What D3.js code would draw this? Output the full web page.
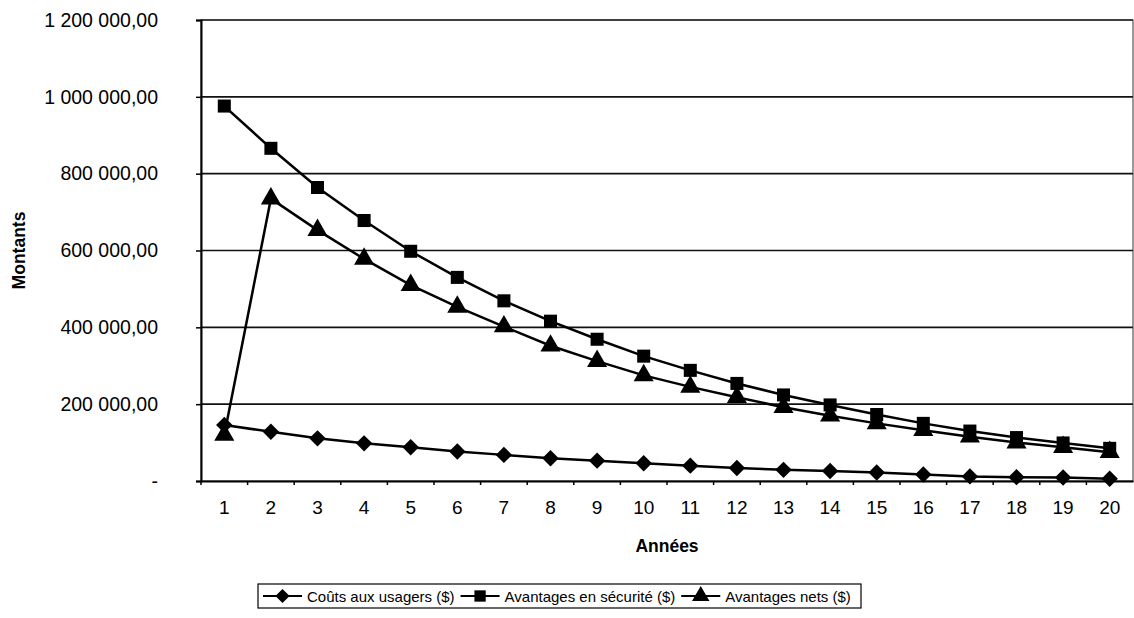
<!DOCTYPE html>
<html>
<head>
<meta charset="utf-8">
<script src="https://cdn.jsdelivr.net/npm/d3@7"></script>
<style>
  body { margin: 0; background: #fff; }
  svg { font-family: Arial, "Liberation Sans", sans-serif; }
</style>
</head>
<body>
<div class="canvas"></div>
<script>
const years = d3.range(1, 21);
const couts = [146000, 128000, 111000, 98000, 88000, 77000, 68000, 59000, 53000, 46000,
  40000, 34000, 29000, 26000, 22000, 17000, 12000, 10000, 9000, 6000];
const securite = [976000, 866000, 764000, 678000, 598000, 530000, 469000, 416000, 369000, 325000,
  288000, 254000, 224000, 198000, 173000, 150000, 130000, 113000, 99000, 85000];
const nets = [120000, 735000, 653000, 578000, 510000, 453000, 402000, 352000, 312000, 275000,
  245000, 218000, 192000, 170000, 150000, 132000, 115000, 100000, 88000, 75000];
const yTicks = [0, 200000, 400000, 600000, 800000, 1000000, 1200000];
const seriesNames = ["Coûts aux usagers ($)", "Avantages en sécurité ($)", "Avantages nets ($)"];

const width = 1134, height = 618;
const plotLeft = 201, plotRight = 1133, plotTop = 20, plotBottom = 481;
const fontFamily = "Arial, 'Liberation Sans', sans-serif";

const svg = d3.select(".canvas").append("svg")
  .attr("width", width).attr("height", height);

const x = d3.scaleBand().domain(years).range([plotLeft, plotRight]);
const y = d3.scaleLinear().domain([0, 1200000]).range([plotBottom, plotTop]);

// grid lines
svg.append("g")
  .selectAll("line")
  .data(yTicks.slice(1))
  .enter()
  .append("line")
  .attr("x1", plotLeft).attr("x2", plotRight)
  .attr("y1", d => y(d)).attr("y2", d => y(d))
  .attr("stroke", "#111").attr("stroke-width", 1.6);

// plot frame
svg.append("rect")
  .attr("x", plotLeft).attr("y", plotTop)
  .attr("width", plotRight - plotLeft).attr("height", plotBottom - plotTop)
  .attr("fill", "none").attr("stroke", "#333").attr("stroke-width", 1);

const fmt = d => d === 0 ? "-" : d3.format(",.2f")(d).replace(/,/g, " ").replace(".", ",");

const yAxis = svg.append("g")
  .attr("transform", `translate(${plotLeft},0)`)
  .call(d3.axisLeft(y).tickValues(yTicks).tickFormat(fmt).tickSize(5).tickPadding(38));
yAxis.select(".domain").attr("stroke", "#000").attr("stroke-width", 2);
yAxis.selectAll(".tick line").attr("stroke", "#000").attr("stroke-width", 1.5);
yAxis.selectAll("text").attr("font-size", 19.5).attr("font-family", fontFamily).attr("fill", "#000");

const xAxis = svg.append("g")
  .attr("transform", `translate(0,${plotBottom})`)
  .call(d3.axisBottom(x).tickSize(0).tickPadding(20));
xAxis.select(".domain").attr("stroke", "#000").attr("stroke-width", 2);
xAxis.selectAll("text").attr("font-size", 19).attr("font-family", fontFamily).attr("fill", "#000");

// category boundary ticks
svg.append("g")
  .selectAll("line")
  .data(years)
  .enter()
  .append("line")
  .attr("x1", d => x(d)).attr("x2", d => x(d))
  .attr("y1", plotBottom).attr("y2", plotBottom + 4)
  .attr("stroke", "#000").attr("stroke-width", 1.5);

svg.append("text")
  .attr("x", (plotLeft + plotRight) / 2).attr("y", 552)
  .attr("text-anchor", "middle")
  .attr("font-size", 17.5).attr("font-weight", "bold")
  .text("Années");

svg.append("text")
  .attr("transform", `translate(25,${(plotTop + plotBottom) / 2}) rotate(-90)`)
  .attr("text-anchor", "middle")
  .attr("font-size", 17.5).attr("font-weight", "bold")
  .text("Montants");

const markers = [d3.symbolSquare, d3.symbolSquare, d3.symbolTriangle];
const markerRotate = [45, 0, 0];
const markerSize = [135, 170, 175];
const allSeries = [couts, securite, nets];
const line = d3.line()
  .x((d, i) => x(years[i]) + x.bandwidth() / 2)
  .y(d => y(d));

allSeries.forEach((vals, s) => {
  svg.append("path")
    .datum(vals)
    .attr("d", line)
    .attr("fill", "none")
    .attr("stroke", "#000")
    .attr("stroke-width", 2.5);
});

allSeries.forEach((vals, s) => {
  svg.append("g")
    .selectAll("path")
    .data(vals)
    .enter()
    .append("path")
    .attr("transform", (d, i) =>
      `translate(${x(years[i]) + x.bandwidth() / 2},${y(d)}) rotate(${markerRotate[s]})`)
    .attr("d", d3.symbol().type(markers[s]).size(markerSize[s]))
    .attr("fill", "#000");
});

// legend
const legend = svg.append("g").attr("id", "legend");
legend.append("rect")
  .attr("x", 258).attr("y", 584)
  .attr("width", 603).attr("height", 24)
  .attr("fill", "#fff").attr("stroke", "#000").attr("stroke-width", 1.2);

let lx = 263;
seriesNames.forEach((name, s) => {
  const g = legend.append("g").attr("transform", `translate(${lx},596)`);
  g.append("line").attr("x1", 0).attr("x2", 39).attr("stroke", "#000").attr("stroke-width", 2.2);
  g.append("path")
    .attr("transform", `translate(19.5,0) rotate(${markerRotate[s]})`)
    .attr("d", d3.symbol().type(markers[s]).size(markerSize[s] * 0.75))
    .attr("fill", "#000");
  const t = g.append("text")
    .attr("x", 44).attr("y", 5.5)
    .attr("font-size", 15)
    .text(name);
  lx += 44 + t.node().getComputedTextLength() + 6;
});
</script>
</body>
</html>
